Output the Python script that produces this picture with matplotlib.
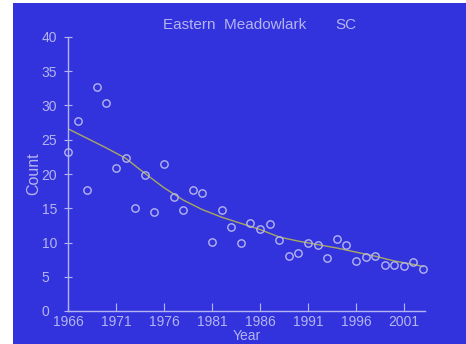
import matplotlib.pyplot as plt
from matplotlib.patches import Rectangle

# counts per year
years = list(range(1966, 2004))
counts = [23.2, 27.8, 17.7, 32.7, 30.3, 20.9, 22.3, 15.1, 19.9, 14.4,
          21.4, 16.6, 14.8, 17.6, 17.2, 10.1, 14.8, 12.2, 10.0, 12.8,
          12.0, 12.7, 10.3, 8.0, 8.5, 9.9, 9.6, 7.8, 10.5, 9.6,
          7.3, 7.9, 8.1, 6.7, 6.75, 6.5, 7.2, 6.2]

# smoothed trend
trend_years = [1966, 1968, 1970, 1972, 1974, 1976, 1978, 1980, 1982, 1984,
               1986, 1988, 1990, 1992, 1994, 1996, 1998, 2000, 2002, 2003]
trend_vals = [26.6, 25.2, 23.8, 22.3, 20.1, 18.0, 16.2, 14.8, 13.7, 12.8,
              11.9, 10.8, 10.2, 9.7, 9.2, 8.6, 8.0, 7.3, 6.8, 6.5]

xticks = [1966, 1971, 1976, 1981, 1986, 1991, 1996, 2001]
yticks = [0, 5, 10, 15, 20, 25, 30, 35, 40]

bg = '#3333dd'
fg = '#b4b4f0'

plt.rcParams['font.family'] = ['Liberation Sans', 'DejaVu Sans']

fig = plt.figure(figsize=(4.66, 3.44), dpi=100)
fig.patch.set_facecolor('white')
fig.patches.append(Rectangle((13 / 466, 0), 1, 341 / 344, transform=fig.transFigure,
                             facecolor=bg, edgecolor='none', zorder=-1))

ax = fig.add_axes([68 / 466, 33 / 344, 357 / 466, 274 / 344])
ax.set_zorder(1)
ax.patch.set_alpha(0)

ax.plot(years, counts, 'o', markersize=5.3, markerfacecolor='none',
        markeredgecolor=fg, markeredgewidth=1, clip_on=False, zorder=3)
ax.plot(trend_years, trend_vals, color='#a8a860', linewidth=1, zorder=2)

ax.set_xlim(1966, 2003.2)
ax.set_ylim(0, 40)
ax.set_xticks(xticks)
ax.set_yticks(yticks)

for s in ['top', 'right']:
    ax.spines[s].set_visible(False)
for s in ['left', 'bottom']:
    ax.spines[s].set_color(fg)
    ax.spines[s].set_linewidth(1)

ax.tick_params(axis='x', direction='in', length=6, color=fg, labelcolor=fg,
               labelsize=10, pad=3)
# y labels are left aligned in the original
ax.tick_params(axis='y', direction='inout', length=6, color=fg, labelcolor=fg,
               labelsize=10, pad=16)
for lab in ax.get_yticklabels():
    lab.set_horizontalalignment('left')

ax.set_xlabel('Year', color=fg, fontsize=10, labelpad=0)
ax.set_ylabel('Count', color=fg, fontsize=11.5)
ax.yaxis.set_label_coords(-0.074, 0.5)

fig.text(163 / 466, 1 - 25 / 344, 'Eastern  Meadowlark', color=fg,
         fontsize=11, ha='left', va='center')
fig.text(335 / 466, 1 - 25 / 344, 'SC', color=fg,
         fontsize=11, ha='left', va='center')

fig.savefig('out.png', dpi=100, facecolor=fig.get_facecolor())
